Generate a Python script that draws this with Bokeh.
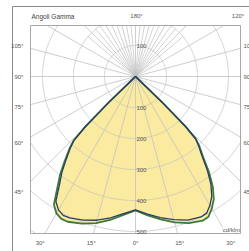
import numpy as np
from bokeh.plotting import figure
from bokeh.models import Range1d, Label
from bokeh.core.properties import value
from bokeh.embed import file_html
from bokeh.resources import INLINE

# ---------------- data (cd/klm vs gamma angle) ----------------
gamma = [0, 5, 10, 15, 20, 25, 27.5, 30, 32.5, 35, 37.5, 40, 42.5, 44, 45, 46, 47, 60, 90, 120, 150, 180]
c0_outer = [432, 450, 468, 487, 503, 513, 510, 492, 470, 435, 390, 340, 305, 280, 230, 120, 0, 0, 0, 0, 0, 0]
c180_outer = [432, 448, 470, 490, 505, 517, 518, 510, 490, 440, 400, 355, 315, 287, 230, 120, 0, 0, 0, 0, 0, 0]
c0_inner = [430, 446, 462, 478, 493, 500, 497, 480, 458, 424, 380, 333, 300, 278, 228, 118, 0, 0, 0, 0, 0, 0]
c180_inner = [430, 444, 463, 480, 493, 503, 505, 497, 478, 428, 390, 347, 310, 285, 228, 118, 0, 0, 0, 0, 0, 0]

radial_ticks = [100, 200, 300, 400, 500]
side_angle_ticks = [105, 90, 75, 60, 45]
bottom_angle_ticks = [30, 15, 0, 15, 30]
bottom_sides = [-1, -1, 0, 1, 1]
top_labels = ["180°", "120°"]
title = "Angoli Gamma"
unit_label = "cd/klm"

# ---------------- layout ----------------
PX = 0.31            # pixels per cd/klm
CX, CY = 135, 76     # centre on page
W, H = 249, 251

def ux(px):
    return (px - CX) / PX

def uy(py):
    return (CY - py) / PX

BX0, BX1 = ux(30), ux(240)
BY1, BY0 = uy(25), uy(233)

p = figure(width=W, height=H, output_backend="svg", toolbar_location=None,
           x_range=Range1d(ux(0), ux(W)), y_range=Range1d(uy(H), uy(0)),
           min_border=0, outline_line_color=None)
p.axis.visible = False
p.grid.visible = False
p.background_fill_color = "white"
p.border_fill_color = "white"

def half(g, r, side):
    g = np.radians(np.array(g, dtype=float))
    r = np.array(r, dtype=float)
    return side * r * np.sin(g), -r * np.cos(g)

def closed(c0, c180):
    x0, y0 = half(gamma, c0, 1)
    x1, y1 = half(gamma, c180, -1)
    xs = np.concatenate([x0[::-1], x1])
    ys = np.concatenate([y0[::-1], y1])
    return xs, ys

FILL = "#fbeba0"
GREEN = "#3a7a3e"
NAVY = "#2e3b66"
GRID = "#c2c2c2"

# fill
xo, yo = closed(c0_outer, c180_outer)
p.patch(xo, yo, fill_color=FILL, line_color=None)

# grid: circles
def inside(x, y):
    return (x >= BX0) & (x <= BX1) & (y >= BY0) & (y <= BY1)

t = np.linspace(0, 2 * np.pi, 1441)
for r in [100, 200, 300, 400, 500, 600]:
    x = r * np.sin(t)
    y = r * np.cos(t)
    m = inside(x, y)
    x = np.where(m, x, np.nan)
    y = np.where(m, y, np.nan)
    p.line(x, y, line_color=GRID, line_width=0.8)

# grid: spokes every 15 deg to box edge
def ray_end(g):
    dx, dy = np.sin(np.radians(g)), -np.cos(np.radians(g))
    ts = []
    if abs(dx) > 1e-9:
        ts.append((BX1 if dx > 0 else -BX0) / abs(dx))
    if abs(dy) > 1e-9:
        ts.append((BY1 / dy) if dy > 0 else (BY0 / dy))
    tt = min(ts)
    return dx * tt, dy * tt

sx, sy = [], []
for g in range(0, 360, 15):
    ex, ey = ray_end(g)
    sx.append([0, ex])
    sy.append([0, ey])
p.multi_line(sx, sy, line_color=GRID, line_width=0.8)

# dense spokes near the top
dx_, dy_ = [], []
for g in range(130, 231, 5):
    if g % 15 == 0:
        continue
    ex, ey = ray_end(g)
    rr = min(200.0, np.hypot(ex, ey))
    a = np.radians(g)
    dx_.append([0, rr * np.sin(a)])
    dy_.append([0, -rr * np.cos(a)])
p.multi_line(dx_, dy_, line_color=GRID, line_width=0.7)

# plot box
p.line([BX0, BX1, BX1, BX0, BX0], [BY1, BY1, BY0, BY0, BY1], line_color="#a8a8a8", line_width=1)

# outer frame
p.line([ux(12), ux(12)], [uy(6), uy(260)], line_color="#8a8a8a", line_width=1)
p.line([ux(12), ux(260)], [uy(6), uy(6)], line_color="#8a8a8a", line_width=1)

# curves
p.line(xo, yo, line_color=GREEN, line_width=1.8)
xi, yi = closed(c0_inner, c180_inner)
p.line(xi, yi, line_color=NAVY, line_width=1.3)

FONT = value("Liberation Sans")
FS = value("6px")
TXT = "#555555"

# radial labels
p.text(x=[3] * (len(radial_ticks) + 1), y=[100] + [-r for r in radial_ticks],
       text=[str(radial_ticks[0])] + [str(r) for r in radial_ticks],
       text_font=FONT, text_font_size=FS, text_color=TXT,
       text_align="left", text_baseline="middle")

# side angle labels
sa = np.radians(np.array(side_angle_ticks, dtype=float))
sy_lab = -(115 / PX) * np.cos(sa) / np.sin(sa)
p.text(x=[ux(23)] * len(side_angle_ticks), y=sy_lab,
       text=[f"{a}°" for a in side_angle_ticks],
       text_font=FONT, text_font_size=FS, text_color=TXT,
       text_align="right", text_baseline="middle")
p.text(x=[ux(243)] * len(side_angle_ticks), y=sy_lab,
       text=[f"{a}°" for a in side_angle_ticks],
       text_font=FONT, text_font_size=FS, text_color=TXT,
       text_align="left", text_baseline="middle")

# bottom angle labels
ba = np.radians(np.array(bottom_angle_ticks, dtype=float))
bx = np.array(bottom_sides) * (165 / PX) * np.tan(ba)
p.text(x=bx, y=[uy(242)] * len(bottom_angle_ticks),
       text=[f"{a}°" for a in bottom_angle_ticks],
       text_font=FONT, text_font_size=FS, text_color=TXT,
       text_align="center", text_baseline="middle")

# top labels
p.text(x=[ux(136), ux(237.5)], y=[uy(15)] * 2, text=top_labels,
       text_font=FONT, text_font_size=FS, text_color=TXT,
       text_align="center", text_baseline="middle")

# title & unit
p.text(x=[ux(31)], y=[uy(16)], text=[title], text_font=FONT,
       text_font_size=value("6.5px"), text_color="#444444",
       text_align="left", text_baseline="middle")
p.add_layout(Label(x=ux(239.5), y=uy(229), text=unit_label, text_font="Liberation Sans",
                   text_font_size="6px", text_color=TXT, text_align="right",
                   text_baseline="middle", background_fill_color="white",
                   background_fill_alpha=0.9))

open("out.html", "w").write(file_html(p, INLINE))
